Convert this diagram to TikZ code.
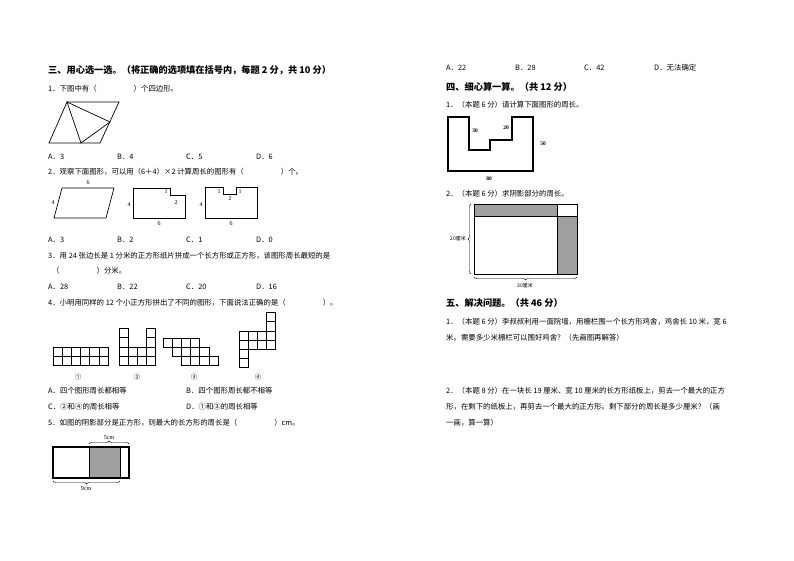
\documentclass[tikz,border=0pt]{standalone}
\usepackage{fontspec}
\setmainfont{Liberation Serif}
\newfontfamily\cjk{Noto Sans CJK SC}
\usetikzlibrary{decorations.pathreplacing}
\begin{document}
\begin{tikzpicture}[x=1pt, y=-1pt,
    txt/.style={anchor=west, inner sep=0pt, font=\cjk\fontsize{7.4}{8}\selectfont},
    head/.style={anchor=west, inner sep=0pt, font=\cjk\bfseries\fontsize{9.2}{10}\selectfont},
    lab/.style={inner sep=0pt, font=\fontsize{6}{6}\selectfont},
    fig/.style={line width=0.7pt},
    thick fig/.style={line width=1.2pt},
    brace/.style={decorate, decoration={brace, amplitude=3pt}, line width=0.4pt}]

    \useasboundingbox[fill=white] (0,0) rectangle (794,561);

    % Left column
    \node (h3) [head] at (48,70) {三、用心选一选。（将正确的选项填在括号内，每题 2 分，共 10 分）};
    \node (q1) [txt] at (48,89) {1．下图中有（\hspace{5em}）个四边形。};
    \draw[fig] (67,102) -- (119,102) -- (100,143) -- (49,143) -- cycle;
    \draw[fig] (67,102) -- (81,143) -- (110,122) -- cycle;
    \foreach \x/\t in {48/A．3, 117/B．4, 186/C．5, 256/D．6}
        \node[txt] at (\x,157) {\t};

    \node (q2) [txt] at (48,172) {2．观察下面图形，可以用（6＋4）×2 计算周长的图形有（\hspace{5em}）个。};
    \draw[fig] (62,188) -- (114,188) -- (106,218) -- (54,218) -- cycle;
    \node[lab] at (88,183) {6};
    \node[lab] at (53,203) {4};
    \draw[fig] (133,188) -- (170,188) -- (170,195) -- (185,195) -- (185,218) -- (133,218) -- cycle;
    \node[lab] at (166,192) {1};
    \node[lab] at (176,203) {2};
    \node[lab] at (129,205) {4};
    \node[lab] at (159,224) {6};
    \draw[fig] (205,187) -- (223,187) -- (223,194) -- (236,194) -- (236,187) -- (257,187) -- (257,218) -- (205,218) -- cycle;
    \node[lab] at (219,192) {1};
    \node[lab] at (240,192) {1};
    \node[lab] at (230,199) {2};
    \node[lab] at (201,205) {4};
    \node[lab] at (231,224) {6};
    \foreach \x/\t in {48/A．3, 117/B．2, 186/C．1, 256/D．0}
        \node[txt] at (\x,240) {\t};

    \node (q3) [txt] at (48,256) {3．用 24 张边长是 1 分米的正方形纸片拼成一个长方形或正方形，该图形周长最短的是};
    \node (q3b) [txt] at (52,271) {（\hspace{5em}）分米。};
    \foreach \x/\t in {48/A．28, 117/B．22, 186/C．20, 256/D．16}
        \node[txt] at (\x,287) {\t};

    \node (q4) [txt] at (48,303) {4．小明用同样的 12 个小正方形拼出了不同的图形，下面说法正确的是（\hspace{5em}）。};
    % grid shapes, cell 9.2
    \foreach \i in {0,...,5} \foreach \j in {0,1}
        \draw[fig] (53+\i*9.2,347+\j*9.2) rectangle ++(9.2,9.2);
    \foreach \i in {0,...,3} \foreach \j in {0,1}
        \draw[fig] (119+\i*9.2,347+\j*9.2) rectangle ++(9.2,9.2);
    \foreach \i in {0,3} \foreach \j in {1,2}
        \draw[fig] (119+\i*9.2,347-\j*9.2) rectangle ++(9.2,9.2);
    \foreach \i in {0,...,3} \foreach \j in {0,1,2}
        \draw[fig] (163+\i*9.2+\j*9.2,338+\j*9.2) rectangle ++(9.2,9.2);
    \foreach \i in {0,...,3} \foreach \j in {0,1}
        \draw[fig] (239+\i*9.2,331+\j*9.2) rectangle ++(9.2,9.2);
    \foreach \j in {1,2}
        \draw[fig] (266.6,331-\j*9.2) rectangle ++(9.2,9.2);
    \foreach \j in {0,1}
        \draw[fig] (239,349.4+\j*9.2) rectangle ++(9.2,9.2);
    \foreach \x/\t in {78/①, 137/②, 194/③, 258/④}
        \node[lab, font=\cjk\fontsize{6.5}{7}\selectfont] at (\x,377) {\t};
    \node[txt] at (48,391) {A．四个图形周长都相等};
    \node[txt] at (186,391) {B．四个图形周长都不相等};
    \node[txt] at (48,407) {C．②和④的周长相等};
    \node[txt] at (186,407) {D．①和③的周长相等};

    \node (q5) [txt] at (48,423) {5．如图的阴影部分是正方形，则最大的长方形的周长是（\hspace{5em}）cm。};
    \fill[gray!75] (89,447) rectangle (120,478);
    \draw[fig] (89,447) -- (89,478) (120,447) -- (120,478);
    \draw[thick fig] (53,447) rectangle (129,478);
    \draw[brace] (89,444) -- (129,444);
    \node[lab] at (109,438) {5cm};
    \draw[brace] (120,481) -- (53,481);
    \node[lab] at (86,489) {9cm};

    % Right column
    \foreach \x/\t in {446/A．22, 515/B．28, 584/C．42, 654/D．无法确定}
        \node[txt] at (\x,68) {\t};
    \node (h4) [head] at (446,87) {四、细心算一算。（共 12 分）};
    \node (c1) [txt] at (446,105) {1．（本题 6 分）请计算下面图形的周长。};
    \draw[thick fig] (448,117) -- (469,117) -- (469,150) -- (490,150) -- (490,140) -- (512,140) -- (512,117) -- (533,117) -- (533,171) -- (448,171) -- cycle;
    \node[lab, font=\bfseries\fontsize{5.5}{6}\selectfont] at (475,131) {30};
    \node[lab, font=\bfseries\fontsize{5.5}{6}\selectfont] at (506,128) {20};
    \node[lab, font=\bfseries\fontsize{5.5}{6}\selectfont] at (543,144) {50};
    \node[lab, font=\bfseries\fontsize{5.5}{6}\selectfont] at (489,179) {80};

    \node (c2) [txt] at (446,194) {2．（本题 6 分）求阴影部分的周长。};
    \fill[gray!75] (474,204) rectangle (557,216);
    \fill[gray!75] (557,216) rectangle (577,274);
    \draw[fig] (474,204) rectangle (577,274);
    \draw[fig] (474,216) -- (577,216) (557,204) -- (557,274);
    \draw[brace] (471,274) -- (471,204);
    \node[lab, font=\cjk\fontsize{5}{5}\selectfont] at (458,239) {20厘米};
    \draw[brace] (577,277) -- (474,277);
    \node[lab, font=\cjk\fontsize{5}{5}\selectfont] at (525,286) {30厘米};

    \node (h5) [head] at (446,303) {五、解决问题。（共 46 分）};
    \node (s1) [txt] at (446,322) {1．（本题 6 分）李叔叔利用一面院墙，用栅栏围一个长方形鸡舍，鸡舍长 10 米，宽 6};
    \node (s1b) [txt] at (446,338) {米。需要多少米栅栏可以围好鸡舍？（先画图再解答）};
    \node (s2) [txt] at (446,391) {2．（本题 8 分）在一块长 19 厘米、宽 10 厘米的长方形纸板上，剪去一个最大的正方};
    \node (s2b) [txt] at (446,407) {形，在剩下的纸板上，再剪去一个最大的正方形。剩下部分的周长是多少厘米？（画};
    \node (s2c) [txt] at (446,423) {一画，算一算）};
\end{tikzpicture}
\end{document}
